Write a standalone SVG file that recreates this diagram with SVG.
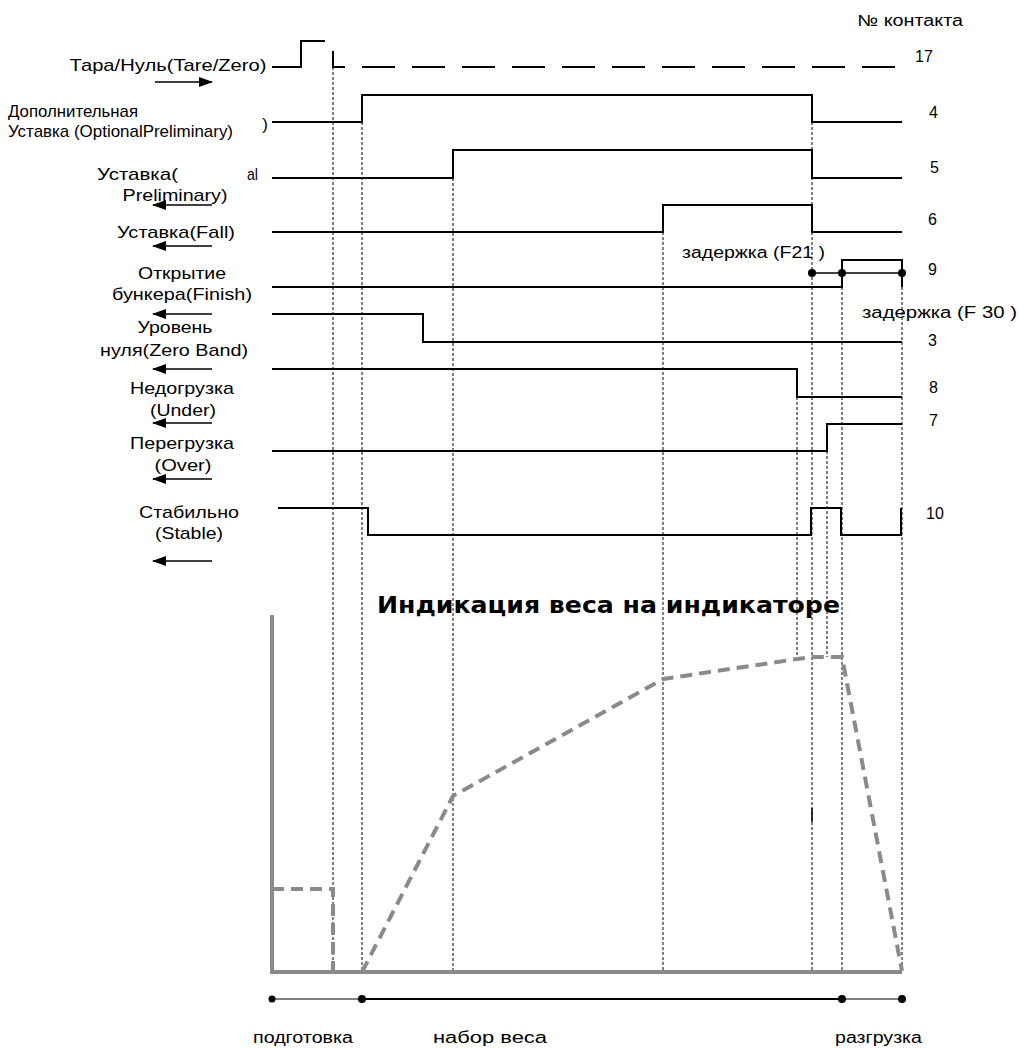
<svg xmlns="http://www.w3.org/2000/svg" width="1019" height="1048" viewBox="0 0 1019 1048">
<defs>
<marker id="ah" markerWidth="14" markerHeight="10" refX="13" refY="5" orient="auto" markerUnits="userSpaceOnUse">
<path d="M0,0 L14,5 L0,10 Z" fill="#000"/>
</marker>
<style>
.lbl{font-family:"Liberation Sans",Arial,sans-serif;font-size:17px;fill:#000;text-anchor:middle}
.num{font-family:"Liberation Sans",Arial,sans-serif;font-size:16px;fill:#000}
.sig{fill:none;stroke:#000;stroke-width:2}
.dot{fill:none;stroke:#000;stroke-width:1;stroke-dasharray:3 2}
.arr{stroke:#000;stroke-width:1.5;marker-end:url(#ah)}
.gray{fill:none;stroke:#8a8a8a;stroke-width:4}
.gdash{fill:none;stroke:#8a8a8a;stroke-width:4;stroke-dasharray:12 7}
</style>
</defs>
<rect width="1019" height="1048" fill="#fff"/>

<g id="guides">
<line class="dot" x1="333" y1="67" x2="333" y2="972"/>
<line class="dot" x1="362" y1="122" x2="362" y2="972"/>
<line class="dot" x1="453" y1="178" x2="453" y2="972"/>
<line class="dot" x1="663" y1="232" x2="663" y2="972"/>
<line class="dot" x1="797" y1="397" x2="797" y2="658"/>
<line class="dot" x1="812" y1="122" x2="812" y2="972"/>
<line class="dot" x1="827" y1="451" x2="827" y2="657"/>
<line class="dot" x1="842" y1="287" x2="842" y2="972"/>
<line class="dot" x1="902" y1="287" x2="902" y2="972"/>
<line x1="812" y1="808" x2="812" y2="822" stroke="#000" stroke-width="1.5"/>
</g>

<g id="header">
<text class="num" x="857" y="26" textLength="106" lengthAdjust="spacingAndGlyphs">№ контакта</text>
</g>

<g id="sig-tare">
<text class="lbl" x="168" y="71" textLength="197" lengthAdjust="spacingAndGlyphs">Тара/Нуль(Tare/Zero)</text>
<line class="arr" x1="155" y1="82" x2="212" y2="82"/>
<path class="sig" d="M272,67 H301 V41 H325"/>
<path class="sig" d="M333,51 V67 H345"/>
<line class="sig" x1="362" y1="67" x2="895" y2="67" stroke-dasharray="33 17"/>
<text class="num" x="915" y="62">17</text>
</g>

<g id="sig-4">
<text class="lbl" x="8" y="117" style="text-anchor:start" textLength="130" lengthAdjust="spacingAndGlyphs">Дополнительная</text>
<text class="lbl" x="8" y="137" style="text-anchor:start" textLength="225" lengthAdjust="spacingAndGlyphs">Уставка (OptionalPreliminary)</text>
<text class="lbl" x="265" y="130">)</text>
<path class="sig" d="M272,122 H362 V95 H812 V122 H902"/>
<text class="num" x="929" y="118">4</text>
</g>

<g id="sig-5">
<text class="lbl" x="97" y="180" style="text-anchor:start" textLength="81" lengthAdjust="spacingAndGlyphs">Уставка(</text>
<text class="lbl" x="247" y="180" style="text-anchor:start" textLength="11" lengthAdjust="spacingAndGlyphs">al</text>
<text class="lbl" x="175" y="201" textLength="105" lengthAdjust="spacingAndGlyphs">Preliminary)</text>
<line class="arr" x1="212" y1="205" x2="153" y2="205"/>
<path class="sig" d="M272,178 H453 V150 H812 V178 H902"/>
<text class="num" x="930" y="173">5</text>
</g>

<g id="sig-6">
<text class="lbl" x="176" y="238" textLength="118" lengthAdjust="spacingAndGlyphs">Уставка(Fall)</text>
<line class="arr" x1="212" y1="246" x2="153" y2="246"/>
<path class="sig" d="M272,232 H663 V205 H812 V232 H902"/>
<text class="num" x="928" y="225">6</text>
</g>

<g id="sig-9">
<text class="lbl" x="182" y="279" textLength="88" lengthAdjust="spacingAndGlyphs">Открытие</text>
<text class="lbl" x="182" y="300" textLength="140" lengthAdjust="spacingAndGlyphs">бункера(Finish)</text>
<line class="arr" x1="212" y1="314" x2="153" y2="314"/>
<path class="sig" d="M272,287 H842 V260 H902 V287"/>
<text class="num" x="682" y="258" textLength="143" lengthAdjust="spacingAndGlyphs">задержка (F21 )</text>
<line x1="812" y1="273" x2="902" y2="273" stroke="#000" stroke-width="1.5"/>
<circle cx="812" cy="273" r="4"/>
<circle cx="842" cy="273" r="4"/>
<circle cx="902" cy="273" r="4"/>
<text class="num" x="928" y="275">9</text>
</g>

<g id="sig-3">
<text class="lbl" x="175" y="333" textLength="75" lengthAdjust="spacingAndGlyphs">Уровень</text>
<text class="lbl" x="174" y="356" textLength="148" lengthAdjust="spacingAndGlyphs">нуля(Zero Band)</text>
<line class="arr" x1="212" y1="369" x2="153" y2="369"/>
<path class="sig" d="M272,314 H423 V342 H902"/>
<text class="num" x="862" y="318" textLength="155" lengthAdjust="spacingAndGlyphs">задержка (F 30  )</text>
<text class="num" x="928" y="346">3</text>
</g>

<g id="sig-8">
<text class="lbl" x="182" y="394" textLength="104" lengthAdjust="spacingAndGlyphs">Недогрузка</text>
<text class="lbl" x="183" y="416" textLength="66" lengthAdjust="spacingAndGlyphs">(Under)</text>
<line class="arr" x1="212" y1="423" x2="153" y2="423"/>
<path class="sig" d="M272,369 H797 V397 H902"/>
<text class="num" x="929" y="393">8</text>
</g>

<g id="sig-7">
<text class="lbl" x="182" y="449" textLength="104" lengthAdjust="spacingAndGlyphs">Перегрузка</text>
<text class="lbl" x="183" y="471" textLength="57" lengthAdjust="spacingAndGlyphs">(Over)</text>
<line class="arr" x1="212" y1="479" x2="153" y2="479"/>
<path class="sig" d="M272,451 H827 V424 H902"/>
<text class="num" x="929" y="426">7</text>
</g>

<g id="sig-10">
<text class="lbl" x="189" y="518" textLength="100" lengthAdjust="spacingAndGlyphs">Стабильно</text>
<text class="lbl" x="189" y="539" textLength="68" lengthAdjust="spacingAndGlyphs">(Stable)</text>
<line class="arr" x1="212" y1="561" x2="153" y2="561"/>
<path class="sig" d="M278,508 H368 V535 H811 V508 H841 V535 H901 V508"/>
<text class="num" x="926" y="519">10</text>
</g>

<g id="chart">
<text x="377" y="613" font-family="'DejaVu Sans','Liberation Sans',Arial,sans-serif" font-size="23" font-weight="bold" textLength="463" lengthAdjust="spacingAndGlyphs">Индикация веса на индикаторе</text>
<path class="gray" d="M272,615 V972 H902"/>
<path class="gdash" d="M272,889 H333 V972"/>
<path class="gdash" d="M362,972 L453,796 L663,679 L797,659 L812,657 L842,657 L902,971"/>
</g>

<g id="timeline">
<line x1="272" y1="999" x2="362" y2="999" stroke="#000" stroke-width="1"/>
<line x1="362" y1="999" x2="842" y2="999" stroke="#000" stroke-width="2"/>
<line x1="842" y1="999" x2="902" y2="999" stroke="#000" stroke-width="1"/>
<circle cx="272" cy="999" r="3.5"/>
<circle cx="362" cy="999" r="4"/>
<circle cx="842" cy="999" r="4"/>
<circle cx="902" cy="999" r="4"/>
<text class="num" x="253" y="1043" textLength="100" lengthAdjust="spacingAndGlyphs">подготовка</text>
<text class="num" x="433" y="1043" textLength="114" lengthAdjust="spacingAndGlyphs">набор веса</text>
<text class="num" x="835" y="1043" textLength="87" lengthAdjust="spacingAndGlyphs">разгрузка</text>
</g>
</svg>
